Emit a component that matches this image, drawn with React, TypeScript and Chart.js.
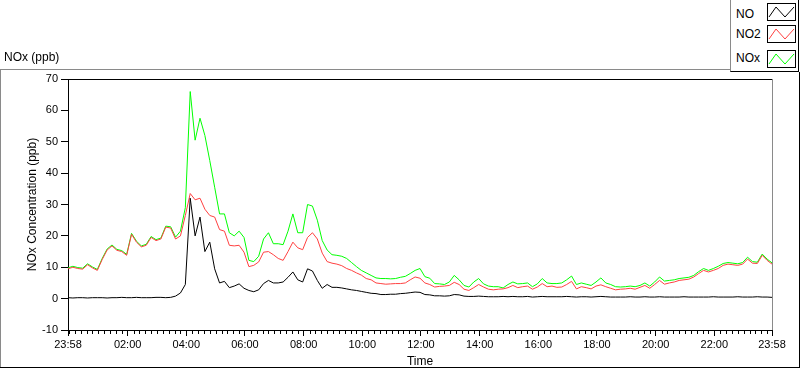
import React, { useEffect, useRef } from 'react';
import { Chart, registerables } from 'chart.js';

Chart.register(...registerables);

// ---- data (sampled every 10 minutes, starting 23:58) ----
const stepMinutes = 10;

const noValues = [
  0.3, 0.2, 0.3, 0.3, 0.2, 0.3, 0.3, 0.3, 0.2, 0.3,
  0.3, 0.4, 0.3, 0.3, 0.4, 0.3, 0.3, 0.3, 0.4, 0.4,
  0.3, 0.4, 0.8, 1.8, 4.5, 32.0, 20.0, 26.0, 15.0, 18.0,
  9.5, 5.0, 5.5, 3.5, 4.0, 4.7, 3.3, 2.6, 2.2, 2.8,
  4.8, 5.8, 5.0, 5.0, 5.3, 6.8, 8.5, 6.0, 5.3, 9.5,
  8.8, 5.8, 3.3, 4.5, 3.6, 3.6, 3.4, 3.1, 2.8, 2.6,
  2.3, 2.0, 1.7, 1.6, 1.3, 1.3, 1.4, 1.4, 1.6, 1.7,
  1.9, 2.1, 2.0, 1.3, 1.2, 0.9, 0.9, 0.8, 0.9, 1.3,
  1.2, 0.8, 0.7, 0.7, 0.8, 0.7, 0.6, 0.6, 0.6, 0.7,
  0.6, 0.7, 0.6, 0.6, 0.7, 0.5, 0.6, 0.7, 0.6, 0.6,
  0.6, 0.6, 0.7, 0.6, 0.5, 0.6, 0.6, 0.5, 0.6, 0.7,
  0.6, 0.5, 0.5, 0.5, 0.5, 0.6, 0.5, 0.5, 0.6, 0.5,
  0.5, 0.6, 0.5, 0.5, 0.5, 0.5, 0.6, 0.5, 0.5, 0.5,
  0.5, 0.5, 0.6, 0.5, 0.5, 0.5, 0.5, 0.6, 0.5, 0.5,
  0.5, 0.6, 0.5, 0.5, 0.4,
];

const no2Values = [
  9.5, 10.0, 9.6, 9.4, 10.8, 9.8, 9.0, 12.5, 15.5, 16.8,
  15.4, 15.0, 13.8, 20.5, 18.0, 16.5, 17.0, 19.5, 18.5, 19.0,
  22.8, 22.5, 19.0, 20.0, 26.5, 33.5, 31.5, 32.0, 28.5, 26.5,
  26.0, 22.0, 21.5, 17.0, 16.8, 17.0, 14.8, 10.2, 10.6, 11.7,
  14.8, 15.0, 14.0, 12.8, 12.2, 15.0, 18.0, 16.2, 15.6, 19.5,
  21.0, 19.0, 14.5, 11.8, 11.3, 11.0, 10.5, 9.6, 9.0, 8.2,
  7.5, 6.4, 6.0, 5.0, 4.8, 4.6, 4.7, 4.8, 4.8, 5.0,
  6.0, 6.9, 6.5, 5.0, 4.5, 3.7, 3.9, 4.0, 4.2, 5.2,
  4.5, 3.0, 2.6, 3.5, 4.5, 3.7, 3.0, 2.8, 3.0, 3.1,
  3.5, 4.2, 3.5, 3.8, 4.0, 3.0, 3.7, 4.8, 3.8, 4.0,
  3.6, 3.7, 4.5, 5.5, 3.1, 3.8, 3.5, 3.1, 4.0, 4.4,
  3.8, 3.3, 2.8, 3.0, 3.1, 3.3, 3.0, 3.6, 4.2, 3.3,
  4.5, 5.8, 4.6, 5.0, 5.3, 5.8, 6.0, 6.2, 6.9, 8.0,
  9.0, 8.5, 9.0, 9.6, 10.6, 11.0, 10.8, 10.6, 11.0, 12.6,
  11.3, 11.2, 13.8, 12.2, 11.0,
];

const noxValues = [
  9.8, 10.3, 9.9, 9.7, 11.1, 10.1, 9.3, 12.8, 15.8, 17.1,
  15.7, 15.3, 14.1, 20.8, 18.3, 16.8, 17.3, 19.8, 18.8, 19.3,
  23.1, 22.9, 19.6, 21.5, 29.0, 66.0, 50.5, 57.5, 52.0, 44.0,
  35.5, 27.0, 27.0, 21.0, 20.0, 21.5, 19.5, 12.2, 11.8, 13.5,
  19.0, 21.0, 17.5, 17.5, 17.2, 21.5, 27.0, 21.0, 21.0, 30.0,
  29.5, 25.0, 18.5, 15.5, 14.0, 13.8, 13.5, 12.8, 11.5, 10.2,
  9.0, 8.2, 7.4, 6.6, 6.4, 6.4, 6.3, 6.4, 6.8, 7.1,
  8.0, 9.0, 9.6, 7.0, 6.5, 4.8, 4.7, 4.5, 5.3, 7.4,
  6.0, 4.2, 3.7, 5.3, 6.4, 4.7, 4.0, 3.8, 3.8, 3.4,
  4.5, 5.3, 4.7, 4.8, 5.0, 3.8, 4.7, 6.4, 5.0, 4.8,
  4.8, 5.0, 6.0, 7.2, 4.5, 5.0, 4.6, 4.2, 5.3, 6.6,
  5.0, 4.5, 3.8, 3.7, 3.8, 4.0, 3.8, 4.2, 5.0, 4.0,
  5.3, 6.9, 5.6, 5.8, 6.0, 6.4, 6.6, 6.8, 7.4, 8.6,
  9.6, 9.0, 9.6, 10.3, 11.2, 11.5, 11.3, 11.1, 11.5, 13.2,
  11.8, 11.6, 14.2, 12.6, 11.4,
];

const seriesNames = ['NO', 'NO2', 'NOx'];
const seriesColors = ['#000000', '#ff4040', '#00ff00'];

const xTickMinutes = [0, 122, 242, 362, 482, 602, 722, 842, 962, 1082, 1202, 1322, 1440];
const xTickLabels = ['23:58', '02:00', '04:00', '06:00', '08:00', '10:00', '12:00', '14:00', '16:00', '18:00', '20:00', '22:00', '23:58'];
const yTickValues = [-10, 0, 10, 20, 30, 40, 50, 60, 70];

const minorTickStart = 2;
const minorTickStep = 12;

const FONT = "'Liberation Sans', Arial, sans-serif";

const framePlugin = {
  id: 'labviewFrame',
  afterDraw(chart: any) {
    const { ctx, chartArea: a, scales } = chart;
    ctx.save();
    ctx.lineWidth = 1;
    // top border of plot
    ctx.strokeStyle = '#000000';
    ctx.beginPath();
    ctx.moveTo(a.left, Math.round(a.top) + 0.5);
    ctx.lineTo(a.right, Math.round(a.top) + 0.5);
    ctx.stroke();
    // right border of plot
    ctx.strokeStyle = '#8a8a8a';
    ctx.beginPath();
    ctx.moveTo(Math.round(a.right) + 0.5, a.top);
    ctx.lineTo(Math.round(a.right) + 0.5, a.bottom);
    ctx.stroke();
    // minor ticks on x axis
    const xs = scales.x;
    ctx.strokeStyle = '#000000';
    ctx.beginPath();
    for (let m = minorTickStart; m < xs.max; m += minorTickStep) {
      if (xTickMinutes.includes(m)) continue;
      const px = Math.round(xs.getPixelForValue(m)) + 0.5;
      ctx.moveTo(px, a.bottom);
      ctx.lineTo(px, a.bottom + 4);
    }
    ctx.stroke();
    ctx.restore();
  },
};

function Swatch({ color }: { color: string }) {
  return (
    <svg width={29} height={18} style={{ display: 'block' }}>
      <rect x={0.5} y={0.5} width={28} height={17} fill="#ffffff" stroke="#000000" strokeWidth={1} />
      <polyline points="2,14 9,4 18,14 27,4" fill="none" stroke={color} strokeWidth={1} />
    </svg>
  );
}

export default function App() {
  const canvasRef = useRef<HTMLCanvasElement | null>(null);

  useEffect(() => {
    const canvas = canvasRef.current;
    if (!canvas) return;
    const valueSets = [noValues, no2Values, noxValues];
    const chart = new Chart(canvas, {
      type: 'line',
      data: {
        datasets: valueSets.map((vals, k) => ({
          label: seriesNames[k],
          data: vals.map((v, i) => ({ x: i * stepMinutes, y: v })),
          borderColor: seriesColors[k],
          backgroundColor: seriesColors[k],
          borderWidth: 1,
          pointRadius: 0,
          tension: 0,
          fill: false,
        })),
      },
      options: {
        animation: false,
        responsive: false,
        maintainAspectRatio: false,
        devicePixelRatio: 1,
        layout: { padding: { left: 0, right: 28, top: 79, bottom: 0 } },
        plugins: { legend: { display: false }, tooltip: { enabled: false } },
        scales: {
          x: {
            type: 'linear',
            min: 0,
            max: 1440,
            afterBuildTicks: (s: any) => {
              s.ticks = xTickMinutes.map((v) => ({ value: v }));
            },
            ticks: {
              autoSkip: false,
              maxRotation: 0,
              minRotation: 0,
              padding: 2,
              color: '#000000',
              font: { family: FONT, size: 11 },
              callback: (_v: any, i: number) => xTickLabels[i],
            },
            grid: { drawOnChartArea: false, drawTicks: true, tickLength: 6, tickColor: '#000000' },
            border: { display: true, color: '#000000', width: 1 },
            title: {
              display: true,
              text: 'Time',
              color: '#000000',
              font: { family: FONT, size: 12 },
              padding: { top: 0, bottom: 0 },
            },
            afterFit: (s: any) => {
              s.height = 39;
            },
          },
          y: {
            type: 'linear',
            min: -10,
            max: 70,
            afterBuildTicks: (s: any) => {
              s.ticks = yTickValues.map((v) => ({ value: v }));
            },
            ticks: {
              padding: 3,
              color: '#000000',
              font: { family: FONT, size: 11 },
            },
            grid: { drawOnChartArea: false, drawTicks: true, tickLength: 7, tickColor: '#000000' },
            border: { display: true, color: '#000000', width: 1 },
            title: {
              display: true,
              text: 'NOx Concentration (ppb)',
              color: '#000000',
              font: { family: FONT, size: 12 },
              padding: { top: 25, bottom: 0 },
            },
            afterFit: (s: any) => {
              s.width = 68;
            },
          },
        },
      } as any,
      plugins: [framePlugin],
    });
    return () => chart.destroy();
  }, []);

  const legendTops = [3, 25, 50];
  const legendTextTops = [7, 27, 51];

  return (
    <div
      style={{
        position: 'fixed',
        left: 0,
        top: 0,
        width: 800,
        height: 369,
        background: '#ffffff',
        fontFamily: FONT,
        fontSize: 12,
        color: '#000000',
        overflow: 'hidden',
      }}
    >
      <canvas ref={canvasRef} width={800} height={369} style={{ position: 'absolute', left: 0, top: 0 }} />
      {/* outer frame */}
      <div style={{ position: 'absolute', left: 0, top: 69, width: 731, height: 1, background: '#8a8a8a' }} />
      <div style={{ position: 'absolute', left: 0, top: 69, width: 1, height: 299, background: '#8a8a8a' }} />
      <div style={{ position: 'absolute', left: 0, top: 367, width: 800, height: 1, background: '#000000' }} />
      <div style={{ position: 'absolute', left: 799, top: 72, width: 1, height: 296, background: '#000000' }} />
      {/* graph title */}
      <div style={{ position: 'absolute', left: 4, top: 50, lineHeight: '14px', whiteSpace: 'nowrap' }}>NOx (ppb)</div>
      {/* legend */}
      <div
        style={{
          position: 'absolute',
          left: 730,
          top: -1,
          width: 67,
          height: 72,
          borderLeft: '1px solid #8a8a8a',
          borderBottom: '1px solid #000000',
          borderRight: '1px solid #000000',
          background: '#ffffff',
        }}
      />
      {seriesNames.map((name, k) => (
        <React.Fragment key={name}>
          <div style={{ position: 'absolute', left: 736, top: legendTextTops[k], lineHeight: '14px', whiteSpace: 'nowrap' }}>
            {name}
          </div>
          <div style={{ position: 'absolute', left: 767, top: legendTops[k] }}>
            <Swatch color={seriesColors[k]} />
          </div>
        </React.Fragment>
      ))}
    </div>
  );
}
